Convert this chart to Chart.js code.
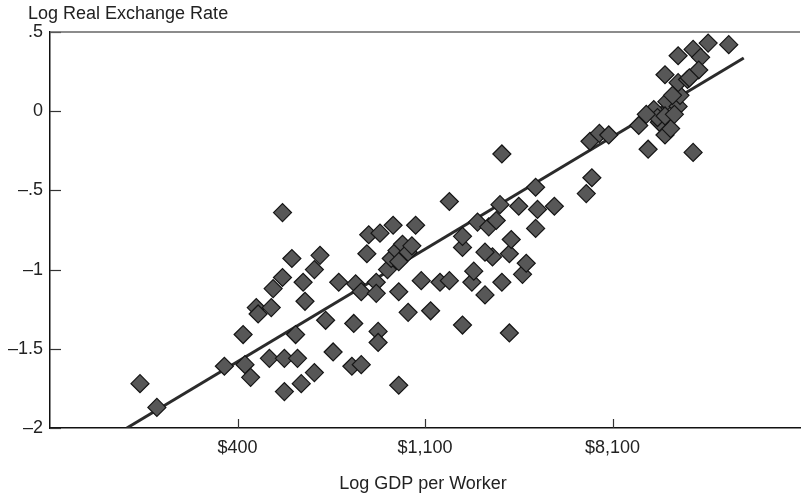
<!DOCTYPE html>
<html>
<head>
<meta charset="utf-8">
<script src="https://cdn.jsdelivr.net/npm/chart.js@4.4.1/dist/chart.umd.min.js"></script>
<style>
  html, body { margin: 0; padding: 0; background: #fff; }
  canvas { display: block; }
</style>
</head>
<body>
<canvas id="chart" width="801" height="498"></canvas>
<script>
// log GDP per worker (x) and log real exchange rate (y), one entry per country
const gdpLog = [5.48, 5.57, 5.93, 6.03, 6.04, 6.07, 6.17, 6.25, 6.32, 6.25,
    6.34, 6.41, 6.31, 6.51, 6.47, 6.62, 6.61, 6.66, 6.75, 6.75,
    6.86, 6.24, 6.29, 6.24, 6.19, 6.10, 6.18, 6.35, 6.36, 6.44,
    6.41, 6.69, 6.54, 6.63, 6.66, 6.74, 6.74, 6.80, 6.82, 6.86,
    6.70, 6.76, 6.83, 6.95, 6.91, 7.03, 7.20, 7.45, 6.98, 7.08,
    7.13, 7.25, 7.26, 7.32, 7.41, 7.52, 7.54, 7.45, 7.36, 7.32,
    7.46, 7.20, 7.20, 7.28, 7.34, 7.38, 7.40, 7.13, 7.41, 7.50,
    7.60, 7.69, 7.59, 7.59, 7.89, 7.86, 6.85, 6.88, 6.91, 6.86,
    7.88, 7.93, 7.98, 8.14, 8.19, 8.43, 8.28, 8.31, 8.25, 8.22,
    8.29, 8.35, 8.24, 8.36, 8.35, 8.28, 8.40, 8.35, 8.43, 8.47,
    8.46, 8.51, 8.62, 8.18, 8.32, 8.41, 6.11, 8.28, 8.33, 6.93];
const rerLog = [-1.72, -1.87, -1.61, -1.41, -1.60, -1.68, -1.56, -1.56, -1.56, -1.77,
    -1.72, -1.65, -1.41, -1.52, -1.32, -1.34, -1.61, -1.60, -1.39, -1.46,
    -1.73, -0.64, -0.93, -1.05, -1.12, -1.24, -1.24, -1.08, -1.20, -0.91,
    -1.00, -0.90, -1.08, -1.09, -1.14, -1.08, -1.15, -1.00, -0.93, -1.14,
    -0.78, -0.77, -0.72, -0.72, -1.27, -1.26, -1.35, -1.40, -1.07, -1.08,
    -1.07, -1.08, -1.01, -1.16, -1.08, -1.03, -0.96, -0.90, -0.92, -0.89,
    -0.81, -0.86, -0.79, -0.70, -0.73, -0.69, -0.59, -0.57, -0.27, -0.60,
    -0.62, -0.60, -0.74, -0.48, -0.42, -0.52, -0.88, -0.84, -0.89, -0.95,
    -0.19, -0.14, -0.15, -0.09, -0.24, -0.26, -0.15, -0.11, -0.07, 0.01,
    0.06, 0.03, -0.04, 0.10, 0.18, 0.23, 0.20, 0.35, 0.39, 0.34,
    0.26, 0.43, 0.42, -0.02, 0.10, 0.21, -1.28, -0.03, -0.02, -0.85];

// fitted line, start and end
const fitX = [5.41, 8.70];
const fitY = [-2.0, 0.336];

// axis ticks
const xTickValues = [6, 7, 8];
const xTickLabels = ['$400', '$1,100', '$8,100'];
const yTickValues = [0.5, 0, -0.5, -1, -1.5, -2];
const yTickLabels = ['.5', '0', '\u2013.5', '\u20131', '\u20131.5', '\u20132'];

const xTitle = 'Log GDP per Worker';
const yTitle = 'Log Real Exchange Rate';

const FONT = '"Liberation Sans", Arial, Helvetica, sans-serif';

const points = gdpLog.map((x, i) => ({ x: x, y: rerLog[i] }));
const fitLine = fitX.map((x, i) => ({ x: x, y: fitY[i] }));

// short inward tick marks, the top rule and both axis titles
const frameAndTitles = {
    id: 'frameAndTitles',
    afterDraw(chart) {
        const ctx = chart.ctx;
        const area = chart.chartArea;
        const xs = chart.scales.x;
        const ys = chart.scales.y;
        ctx.save();

        ctx.strokeStyle = '#333';
        ctx.lineWidth = 1.2;
        ys.ticks.forEach(t => {
            const py = Math.round(ys.getPixelForValue(t.value)) + 0.5;
            ctx.beginPath();
            ctx.moveTo(area.left, py);
            ctx.lineTo(area.left + 11, py);
            ctx.stroke();
        });
        xs.ticks.forEach(t => {
            const px = Math.round(xs.getPixelForValue(t.value)) + 0.5;
            ctx.beginPath();
            ctx.moveTo(px, area.bottom);
            ctx.lineTo(px, area.bottom - 9);
            ctx.stroke();
        });

        ctx.strokeStyle = '#666';
        ctx.lineWidth = 1.5;
        ctx.beginPath();
        ctx.moveTo(area.left, area.top);
        ctx.lineTo(area.right, area.top);
        ctx.stroke();

        ctx.fillStyle = '#222';
        ctx.font = '18px ' + FONT;
        ctx.textBaseline = 'alphabetic';
        ctx.textAlign = 'left';
        ctx.fillText(yTitle, 28, 19);
        ctx.textAlign = 'center';
        ctx.fillText(xTitle, 423, 489);
        ctx.restore();
    }
};

const ctx = document.getElementById('chart').getContext('2d');
new Chart(ctx, {
    type: 'scatter',
    data: {
        datasets: [{
            label: 'countries',
            data: points,
            pointStyle: 'rectRot',
            pointRadius: 9,
            backgroundColor: '#575757',
            borderColor: '#151515',
            borderWidth: 1.2,
            order: 0
        }, {
            type: 'line',
            label: 'fit',
            data: fitLine,
            borderColor: '#2b2b2b',
            borderWidth: 3,
            pointRadius: 0,
            fill: false,
            order: 1
        }]
    },
    options: {
        responsive: false,
        animation: false,
        layout: {
            autoPadding: false,
            padding: { top: 32, right: 1, left: 0, bottom: 0 }
        },
        plugins: {
            legend: { display: false },
            tooltip: { enabled: false }
        },
        scales: {
            x: {
                type: 'linear',
                min: 5,
                max: 9,
                afterBuildTicks: scale => {
                    scale.ticks = xTickValues.map(v => ({ value: v }));
                },
                afterFit: scale => {
                    scale.height = 70;
                    scale.paddingLeft = 0;
                    scale.paddingRight = 0;
                },
                grid: { display: false, drawTicks: false },
                border: { display: true, color: '#111', width: 1.5 },
                ticks: {
                    padding: 9,
                    color: '#222',
                    font: { family: FONT, size: 18 },
                    callback: v => xTickLabels[xTickValues.indexOf(v)]
                }
            },
            y: {
                min: -2,
                max: 0.5,
                afterBuildTicks: scale => {
                    scale.ticks = yTickValues.map(v => ({ value: v }));
                },
                afterFit: scale => {
                    scale.width = 50;
                    scale.paddingTop = 0;
                    scale.paddingBottom = 0;
                },
                grid: { display: false, drawTicks: false },
                border: { display: true, color: '#111', width: 1.5 },
                ticks: {
                    padding: 7,
                    color: '#222',
                    font: { family: FONT, size: 18 },
                    callback: v => yTickLabels[yTickValues.indexOf(v)]
                }
            }
        }
    },
    plugins: [frameAndTitles]
});
</script>
</body>
</html>
